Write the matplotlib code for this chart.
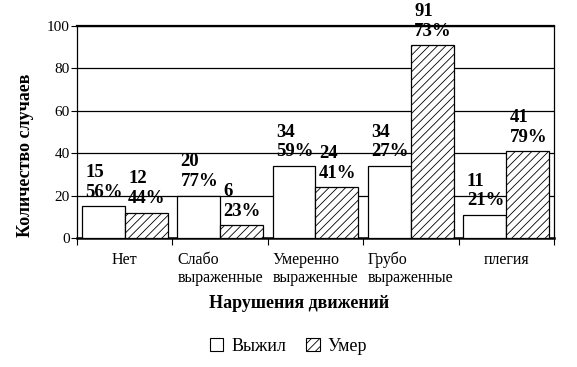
import numpy as np
import matplotlib
matplotlib.use("Agg")
import matplotlib.pyplot as plt
from matplotlib.patches import Patch

plt.rcParams['font.family'] = ['Liberation Serif', 'DejaVu Serif']
plt.rcParams['hatch.linewidth'] = 0.6

categories = ["Нет", "Слабо\nвыраженные", "Умеренно\nвыраженные",
              "Грубо\nвыраженные", "плегия"]
survived = [15, 20, 34, 34, 11]
died = [12, 6, 24, 91, 41]
survived_pct = [56, 77, 59, 27, 21]
died_pct = [44, 23, 41, 73, 79]
y_ticks = [0, 20, 40, 60, 80, 100]

fig = plt.figure(figsize=(5.77, 3.67), dpi=100)
ax = fig.add_axes([0.1334, 0.3515, 0.8266, 0.5775])

x = np.arange(len(categories))
w = 0.45
b1 = ax.bar(x - w / 2, survived, w, color="white", edgecolor="black", lw=0.9, zorder=3)
b2 = ax.bar(x + w / 2, died, w, color="white", edgecolor="black", lw=0.9,
            hatch="////", zorder=3)

for bars, vals, pcts in [(b1, survived, survived_pct), (b2, died, died_pct)]:
    for r, v, p in zip(bars, vals, pcts):
        ax.annotate(f"{v}\n{p}%", (r.get_x(), r.get_height()),
                    xytext=(2.5, 4), textcoords="offset points",
                    ha="left", va="bottom", fontsize=13.5, fontweight="bold",
                    linespacing=1.2, zorder=4, annotation_clip=False)

ax.set_xlim(-0.5, len(categories) - 0.5)
ax.set_ylim(0, 100)
ax.set_yticks(y_ticks)
ax.tick_params(axis="y", labelsize=11, length=4, width=0.8, direction="out", pad=1)
ax.yaxis.grid(True, color="black", lw=0.9, zorder=0)

ax.set_xticks(np.arange(len(categories) + 1) - 0.5)
ax.set_xticklabels([])
ax.tick_params(axis="x", which="major", length=5, width=0.8, direction="out")
ax.set_xticks(x, minor=True)
ax.set_xticklabels(categories, minor=True, fontsize=11.5, multialignment="left",
                   linespacing=1.15)
ax.tick_params(axis="x", which="minor", length=0, pad=10)

for s in ["left", "right"]:
    ax.spines[s].set_linewidth(0.9)
ax.spines["top"].set_linewidth(1.6)
ax.spines["bottom"].set_linewidth(1.8)

fig.text(0.045, 0.578, "Количество случаев", rotation=90, ha="center", va="center",
         fontsize=13, fontweight="bold")
fig.text(0.518, 0.173, "Нарушения движений", ha="center", va="center",
         fontsize=13, fontweight="bold")

handles = [Patch(facecolor="white", edgecolor="black", lw=0.8, label="Выжил"),
           Patch(facecolor="white", edgecolor="black", lw=0.8, hatch="////", label="Умер")]
fig.legend(handles=handles, loc="center", bbox_to_anchor=(0.5, 0.057), ncol=2,
           frameon=False, fontsize=13, handlelength=0.75, handleheight=0.75,
           handletextpad=0.45, columnspacing=1.1)

fig.savefig("out.png", dpi=100)
